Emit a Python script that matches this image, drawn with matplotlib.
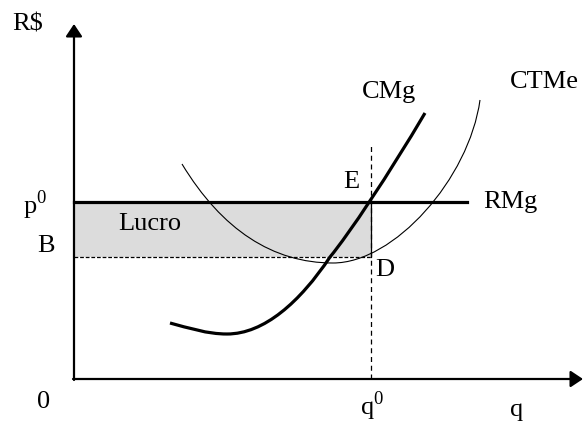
import matplotlib
matplotlib.use("Agg")
import matplotlib.pyplot as plt
from matplotlib.path import Path
from matplotlib.patches import PathPatch, Rectangle

plt.rcParams["font.family"] = ["Liberation Serif", "DejaVu Serif"]
plt.rcParams["mathtext.fontset"] = "custom"
plt.rcParams["mathtext.rm"] = "Liberation Serif"

# levels (q to the right, R$ up, origin at 0)
p0 = 177
B = 122
q0 = 297
rmg_end = 393
q0_top = 234
y_axis_top = 355
x_axis_end = 509

# CMg: bezier pieces (start, ctrl, ctrl, end)
cmg_x = [96, 115, 133, 153, 190, 226, 256, 275, 315, 351]
cmg_y = [56, 51, 45, 45, 45, 77, 122, 145, 205, 266]

# CTMe: bezier pieces
ctme_x = [108, 148, 199, 259, 320, 395, 406]
ctme_y = [215, 149, 116, 116, 116, 200, 279]

fig = plt.figure(figsize=(5.83, 4.23), dpi=100)
ax = fig.add_axes([0, 0, 1, 1])
ax.set_xlim(-74, 509)
ax.set_ylim(-44, 379)
ax.axis("off")

# profit area
ax.add_patch(Rectangle((0, B), q0, p0 - B, facecolor="#dcdcdc", edgecolor="none", zorder=1))
ax.plot([0, q0], [B, B], color="black", lw=0.9, ls=(0, (3, 1.5)), zorder=2)
ax.plot([q0, q0], [0, q0_top], color="black", lw=0.9, ls=(0, (4, 3)), zorder=2)
ax.plot([q0, q0], [B, p0], color="black", lw=0.9, zorder=2)

# RMg
ax.plot([0, rmg_end], [p0, p0], color="black", lw=2.3, zorder=3)

def bezier(xs, ys):
    verts = list(zip(xs, ys))
    codes = [Path.MOVETO] + [Path.CURVE4] * (len(verts) - 1)
    return Path(verts, codes)

ax.add_patch(PathPatch(bezier(ctme_x, ctme_y), facecolor="none", edgecolor="black", lw=0.8, zorder=3))
ax.add_patch(PathPatch(bezier(cmg_x, cmg_y), facecolor="none", edgecolor="black", lw=2.3,
                       capstyle="butt", zorder=4))

# axes with arrows
arrow = dict(arrowstyle="-|>,head_length=0.75,head_width=0.5", color="black", lw=1.6,
             mutation_scale=10, shrinkA=0, shrinkB=0)
ax.annotate("", xy=(0, y_axis_top), xytext=(0, -1), arrowprops=arrow, zorder=5)
ax.annotate("", xy=(x_axis_end, 0), xytext=(-1, 0), arrowprops=arrow, zorder=5)

fs = 19
ax.text(-62, 355, "R$", fontsize=fs, va="center", ha="left")
ax.text(288, 287, "CMg", fontsize=fs, va="center", ha="left")
ax.text(436, 297, "CTMe", fontsize=fs, va="center", ha="left")
ax.text(269, 197, "E", fontsize=fs, va="center", ha="left")
ax.text(409, 177, "RMg", fontsize=fs, va="center", ha="left")
ax.text(-51, 174, r"p$^{\mathregular{0}}$", fontsize=fs, va="center", ha="left")
ax.text(-37, 133, "B", fontsize=fs, va="center", ha="left")
ax.text(44, 155, "Lucro", fontsize=fs, va="center", ha="left")
ax.text(301, 109, "D", fontsize=fs, va="center", ha="left")
ax.text(-37, -23, "0", fontsize=fs, va="center", ha="left")
ax.text(286, -27, r"q$^{\mathregular{0}}$", fontsize=fs, va="center", ha="left")
ax.text(436, -31, "q", fontsize=fs, va="center", ha="left")

fig.savefig("out.png", dpi=100)
